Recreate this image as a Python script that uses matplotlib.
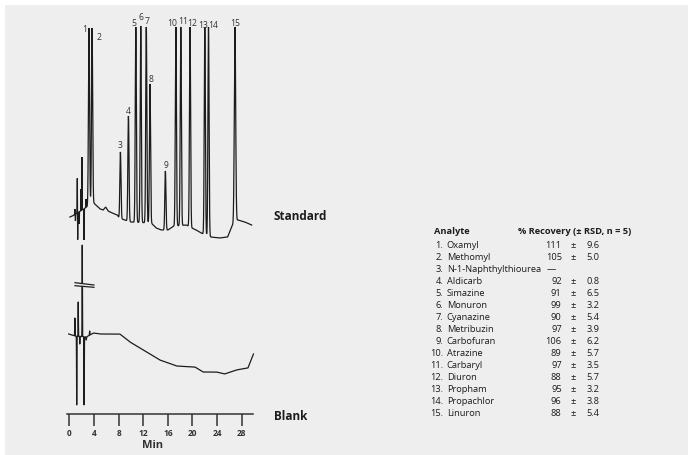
import numpy as np
import matplotlib
matplotlib.use("Agg")
import matplotlib.pyplot as plt
from matplotlib.patches import Rectangle, Polygon
from matplotlib import font_manager

# ---------------- data ----------------
# Standard chromatogram: peak retention times (min) and apex signal (arb. units)
peak_ids = ["1", "2", "3", "4", "5", "6", "7", "8", "9", "10", "11", "12", "13", "14", "15"]
peak_times = [3.2, 3.7, 8.3, 9.6, 10.8, 11.6, 12.5, 13.1, 15.6, 17.3, 18.1, 19.6, 22.0, 22.6, 26.9]
peak_apex = [386, 386, 262, 298, 387, 388, 387, 330, 243, 387, 387, 387, 387, 387, 387]

# Standard baseline (time, signal)
std_base_t = [0.1, 0.5, 2.6, 3.8, 5.0, 5.5, 5.9, 6.3, 6.6, 7.8, 8.1, 9.0, 10.0, 13.3, 14.1,
              14.9, 16.0, 17.0, 19.0, 19.9, 20.6, 21.4, 23.0, 24.4, 25.7, 26.3, 26.8, 27.4,
              28.5, 29.6]
std_base_v = [197, 198, 206, 212, 205, 204, 207, 203, 202, 199, 196, 194, 192, 191, 186,
              184, 184, 188, 189, 186, 184, 181, 177, 176, 177, 186, 193, 194,
              192, 189]
# Early solvent-front noise on the standard (time, signal)
std_noise_t = [0.9, 1.0, 1.3, 1.36, 1.6, 1.9, 2.05, 2.2, 2.4, 2.7]
std_noise_v = [205, 193, 236, 174, 190, 225, 257, 205, 174, 215]

# Blank baseline (time, signal)
blank_t = [-0.1, 0.9, 2.8, 3.9, 5.0, 8.2, 9.85, 12.0, 14.7, 17.4, 20.4, 21.7, 23.9, 25.2,
           27.1, 29.0, 29.9]
blank_v = [80, 78, 77, 81, 80, 80, 72, 64, 54, 48, 47, 42, 42, 40, 44, 46, 60]
blank_noise_t = [0.9, 1.2, 1.45, 1.7, 2.1, 2.4, 2.75, 3.3]
blank_noise_v = [96, 9, 112, 70, 169, 9, 74, 83]

# Recovery table
analytes = ["Oxamyl", "Methomyl", "N-1-Naphthylthiourea", "Aldicarb", "Simazine", "Monuron",
            "Cyanazine", "Metribuzin", "Carbofuran", "Atrazine", "Carbaryl", "Diuron",
            "Propham", "Propachlor", "Linuron"]
recovery = [111, 105, None, 92, 91, 99, 90, 97, 106, 89, 97, 88, 95, 96, 88]
rsd = [9.6, 5.0, None, 0.8, 6.5, 3.2, 5.4, 3.9, 6.2, 5.7, 3.5, 5.7, 3.2, 3.8, 5.4]

x_ticks = [0, 4, 8, 12, 16, 20, 24, 28]

# ---------------- figure ----------------
W, H = 688, 455
BG = "#eeeeee"
INK = "#1c1c1c"

# choose a family that really has a bold face
fam = "DejaVu Sans"
for cand in ["Open Sans", "Noto Sans", "Lato", "Roboto"]:
    try:
        fp = font_manager.findfont(font_manager.FontProperties(family=cand, weight="bold"),
                                   fallback_to_default=False)
        if "bold" in fp.lower() or "black" in fp.lower():
            fam = cand
            break
    except Exception:
        pass
plt.rcParams["font.family"] = [fam, "DejaVu Sans"]

fig = plt.figure(figsize=(W / 100, H / 100), dpi=100, facecolor=BG)
fig.patches.append(Rectangle((0, 1 - 5 / H), 1, 5 / H, transform=fig.transFigure,
                             facecolor="white", edgecolor="none", zorder=0))
fig.patches.append(Rectangle((0, 0), 5 / W, 1, transform=fig.transFigure,
                             facecolor="white", edgecolor="none", zorder=0))

def fx(px):
    return px / W

def fy(py):
    return 1 - py / H

ax = fig.add_axes([fx(60), fy(414), 200 / W, 404 / H])
ax.set_facecolor("none")
ax.set_xlim(-1.51, 30.96)
ax.set_ylim(0, 404)


def trace(t, bt, bv, pt, pv, sig):
    base = np.interp(t, bt, bv)
    y = base.copy()
    for tc, v, s in zip(pt, pv, sig):
        h = v - np.interp(tc, bt, bv)
        y += h * np.exp(-0.5 * ((t - tc) / s) ** 2)
    return y


t_std = np.linspace(0.1, 29.6, 8000)
sig_peaks = [0.09] * 14 + [0.11]
y_std = trace(t_std, std_base_t, std_base_v,
              list(peak_times) + std_noise_t, list(peak_apex) + std_noise_v,
              sig_peaks + [0.02] * len(std_noise_t))
ax.plot(t_std, y_std, color=INK, lw=0.9, solid_joinstyle="miter")

t_blank = np.linspace(-0.1, 29.9, 8000)
y_blank = trace(t_blank, blank_t, blank_v, blank_noise_t, blank_noise_v,
                [0.025] * len(blank_noise_t))
ax.plot(t_blank, y_blank, color=INK, lw=0.9)

# axis break mark on the blank's solvent front
ax.add_patch(Polygon([(0.93, 131.3), (4.0, 129.0), (4.0, 126.7), (0.93, 128.3)],
                     closed=True, facecolor=BG, edgecolor="none", zorder=5))
ax.plot([0.93, 4.0], [131.3, 129.0], color=INK, lw=0.9, zorder=6)
ax.plot([0.93, 4.0], [128.3, 126.7], color=INK, lw=0.9, zorder=6)

# peak labels (offsets in pixels)
lab_dx = [-4, 7, 0, 0, -2, 0, 1, 1, 1, -4, 2, 2, -2, 5, 0]
lab_dy = [-2, -9, 6, 5, 3, 8, 5, 5, 6, 4, 6, 4, 1, 1, 4]
for pid, tc, v, dx, dy in zip(peak_ids, peak_times, peak_apex, lab_dx, lab_dy):
    ax.annotate(pid, (tc, v), xytext=(dx, dy), textcoords="offset pixels",
                ha="center", va="center", fontsize=6.2, color="#333333")

for s in ["left", "right", "top"]:
    ax.spines[s].set_visible(False)
ax.spines["bottom"].set_bounds(-0.3, 29.8)
ax.spines["bottom"].set_linewidth(1.1)
ax.spines["bottom"].set_color("#333333")
ax.set_yticks([])
ax.set_xticks(x_ticks)
ax.set_xticklabels([str(v) for v in x_ticks], fontsize=6, fontweight="bold", color="#333333")
ax.tick_params(axis="x", direction="out", length=8.5, width=1.1, color="#333333", pad=2.5)

fig.text(fx(152.3), fy(446), "Min", ha="center", va="center", fontsize=8,
         fontweight="bold", color="#333333")
fig.text(fx(274), fy(216.5), "Standard", ha="left", va="center", fontsize=8.5,
         fontweight="bold", color=INK)
fig.text(fx(274), fy(416.7), "Blank", ha="left", va="center", fontsize=8.5,
         fontweight="bold", color=INK)

# recovery table
fs = 6.7
fig.text(fx(434), fy(232), "Analyte", ha="left", va="center", fontsize=fs,
         fontweight="bold", color=INK)
fig.text(fx(517.7), fy(232), "% Recovery (± RSD, n = 5)", ha="left", va="center",
         fontsize=fs, fontweight="bold", color=INK)
for i, (name, rec, sd) in enumerate(zip(analytes, recovery, rsd)):
    yy = fy(246 + i * 11.95)
    fig.text(fx(443.3), yy, f"{i + 1}.", ha="right", va="center", fontsize=fs, color=INK)
    fig.text(fx(446.7), yy, name, ha="left", va="center", fontsize=fs, color=INK)
    if rec is None:
        fig.text(fx(551), yy, "—", ha="center", va="center", fontsize=fs, color=INK)
    else:
        fig.text(fx(561.7), yy, f"{rec}", ha="right", va="center", fontsize=fs, color=INK)
        fig.text(fx(573), yy, "±", ha="center", va="center", fontsize=fs, color=INK)
        fig.text(fx(599.3), yy, f"{sd:.1f}", ha="right", va="center", fontsize=fs, color=INK)

fig.savefig("out.png", dpi=100, facecolor=BG)
